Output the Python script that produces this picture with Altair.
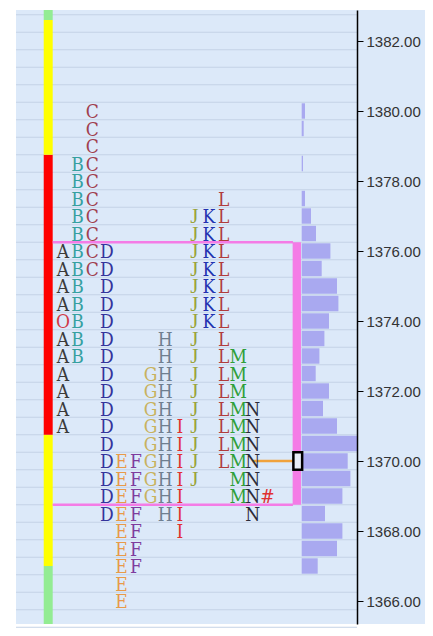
import altair as alt
import pandas as pd
import numpy as np

# ---------------- data ----------------
prices = [1380.0, 1379.5, 1379.0, 1378.5, 1378.0, 1377.5, 1377.0, 1376.5,
          1376.0, 1375.5, 1375.0, 1374.5, 1374.0, 1373.5, 1373.0, 1372.5,
          1372.0, 1371.5, 1371.0, 1370.5, 1370.0, 1369.5, 1369.0, 1368.5,
          1368.0, 1367.5, 1367.0, 1366.5, 1366.0]

# each character position = TPO column (A..N, then '#')
tpo_rows = [
    "  C",
    "  C",
    "  C",
    " BC",
    " BC",
    " BC        L",
    " BC      JKL",
    " BC      JKL",
    "ABCD     JKL",
    "ABCD     JKL",
    "AB D     JKL",
    "AB D     JKL",
    "OB D     JKL",
    "AB D   H J L",
    "AB D   H J LM",
    "A  D  GH J LM",
    "A  D  GH J LM",
    "A  D  GH J LMN",
    "A  D  GHIJ LMN",
    "   D  GHIJ LMN",
    "   DEFGHIJ LMN",
    "   DEFGHIJ  MN",
    "   DEFGHI   MN#",
    "   DEF HI    N",
    "    EF  I",
    "    EF",
    "    EF",
    "    E",
    "    E",
]

letter_colors = {
    "A": "#3a3a3a", "O": "#d03a48", "B": "#35a0a0", "C": "#a0404f",
    "D": "#34349c", "E": "#e89a48", "F": "#7e3c9e", "G": "#c8b25e",
    "H": "#6f7f90", "I": "#e03030", "J": "#9aa43c", "K": "#2232b0",
    "L": "#b03c3c", "M": "#2f9f3a", "N": "#2c2c3a", "#": "#e03030",
}

vol_prices = [1380.0, 1379.5, 1379.0, 1378.5, 1378.0, 1377.5, 1377.0, 1376.5,
              1376.0, 1375.5, 1375.0, 1374.5, 1374.0, 1373.5, 1373.0, 1372.5,
              1372.0, 1371.5, 1371.0, 1370.5, 1370.0, 1369.5, 1369.0, 1368.5,
              1368.0, 1367.5, 1367.0]
volumes = [33, 20, 0, 13, 0, 33, 93, 143,
           287, 200, 353, 367, 273, 227, 177, 140,
           273, 213, 353, 553, 460, 487, 407, 233,
           407, 353, 160]

value_area_high = 1376.25
value_area_low = 1368.75
poc_price = 1370.0

# left range bar segments (price low, price high, colour)
range_lows = [1365.0, 1367.0, 1370.75, 1378.75, 1382.6]
range_highs = [1367.0, 1370.75, 1378.75, 1382.6, 1383.0]
range_colors = ["#93ec93", "#ffff00", "#ff0000", "#ffff00", "#93ec93"]

axis_ticks = [1366, 1368, 1370, 1372, 1374, 1376, 1378, 1380, 1382]

# ---------------- layout ----------------
W, H = 341, 614
Y_DOM = [1365.343, 1382.886]
X_DOM = [-3.219, 20.137]
V_DOM = [-2857, 553]
BG = "#dce9f9"
GRID = "#c4d2e6"
PINK = "#f47ce6"

yscale = alt.Scale(domain=Y_DOM, nice=False, zero=False)
xscale = alt.Scale(domain=X_DOM, nice=False, zero=False)
vscale = alt.Scale(domain=V_DOM, nice=False, zero=False)
yaxis = alt.Axis(orient="right", values=axis_ticks, format=".2f", grid=False,
                 title=None, tickSize=6, tickColor="black", tickWidth=1,
                 domainColor="black", domainWidth=1.5, labelFont="Liberation Sans",
                 labelFontSize=15, labelColor="#333333", labelPadding=3, zindex=1)


def Y(field):
    return alt.Y(field, type="quantitative", scale=yscale, axis=yaxis)


def X(field):
    return alt.X(field, type="quantitative", scale=xscale, axis=None)


# text table
trows = []
for p, row in zip(prices, tpo_rows):
    for i, ch in enumerate(row):
        if ch != " ":
            trows.append({"price": p, "col": i, "letter": ch, "color": letter_colors[ch]})
tdf = pd.DataFrame(trows)

one = pd.DataFrame([{"a": 0}])

bg = alt.Chart(one).mark_rect(fill=BG).encode(
    x=alt.value(0), x2=alt.value(409), y=alt.value(0), y2=alt.value(H))

grid_levels = np.arange(1365.25, 1383.0, 0.5)
grid = alt.Chart(pd.DataFrame({"g": grid_levels})).mark_rule(
    color=GRID, strokeWidth=1).encode(y=Y("g"), x=alt.value(0), x2=alt.value(W))

rdf = pd.DataFrame({"lo": range_lows, "hi": range_highs, "c": range_colors,
                    "x0": -1.32, "x1": -0.705})
rangebar = alt.Chart(rdf).mark_rect(clip=True).encode(
    x=X("x0"), x2="x1", y=Y("lo"), y2="hi", color=alt.Color("c", scale=None))

va_df = pd.DataFrame({"p": [value_area_high, value_area_low], "x0": -0.705, "x1": 15.75})
va_lines = alt.Chart(va_df).mark_rule(color=PINK, strokeWidth=2.5).encode(
    x=X("x0"), x2="x1", y=Y("p"))

va_bar = alt.Chart(pd.DataFrame({"lo": [value_area_low], "hi": [value_area_high],
                                 "x0": 15.73, "x1": 16.3})).mark_rect(color=PINK).encode(
    x=X("x0"), x2="x1", y=Y("lo"), y2="hi")

vdf = pd.DataFrame({"price": vol_prices, "vol": volumes})
vdf["lo"] = vdf["price"] - 0.22
vdf["hi"] = vdf["price"] + 0.22
vdf["zero"] = 0
vbars = alt.Chart(vdf[vdf["vol"] > 0]).mark_rect(color="#a9a9f0").encode(
    x=alt.X("zero:Q", scale=vscale, axis=None), x2="vol", y=Y("lo"), y2="hi")

poc_line = alt.Chart(pd.DataFrame({"p": [poc_price], "x0": 13.0, "x1": 15.75})).mark_rule(
    color="#f0a23c", strokeWidth=2.5).encode(x=X("x0"), x2="x1", y=Y("p"))

poc_box = alt.Chart(pd.DataFrame({"lo": [poc_price - 0.25], "hi": [poc_price + 0.25],
                                  "x0": 15.78, "x1": 16.38})).mark_rect(
    fill="#e8eef8", stroke="black", strokeWidth=2.5).encode(
    x=X("x0"), x2="x1", y=Y("lo"), y2="hi")

letters = alt.Chart(tdf[tdf["letter"] != "J"]).mark_text(
    font="DejaVu Serif Condensed, DejaVu Serif, serif", fontSize=19,
    align="center", baseline="middle", dy=1).encode(
    x=X("col"), y=Y("price"), text="letter", color=alt.Color("color", scale=None))

letters_j = alt.Chart(tdf[tdf["letter"] == "J"]).mark_text(
    font="Liberation Serif, serif", fontSize=21,
    align="center", baseline="middle", dy=1).encode(
    x=X("col"), y=Y("price"), text="letter", color=alt.Color("color", scale=None))

chart = alt.layer(bg, grid, rangebar, va_lines, va_bar, vbars, poc_line, poc_box,
                  letters, letters_j).resolve_scale(x="independent").properties(
    width=W, height=H, background="white",
    padding={"left": 7, "top": 2, "right": 0, "bottom": 0}
).configure_view(stroke=None)

chart.save("out.html", embed_options={"renderer": "svg", "actions": False})
